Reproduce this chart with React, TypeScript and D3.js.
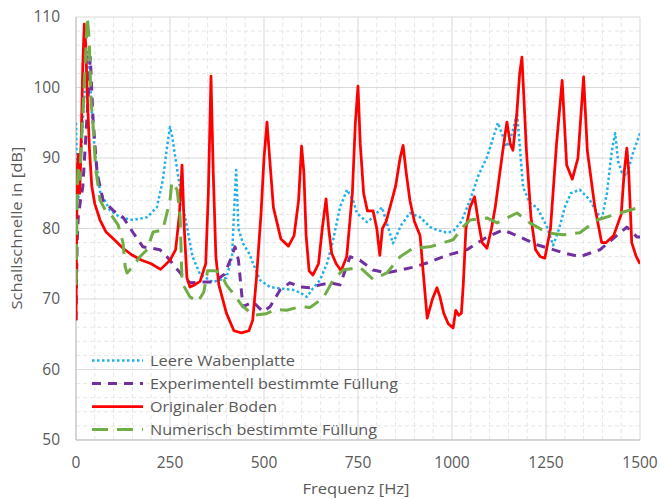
import * as d3 from "d3";

// frequency [Hz], level [dB]
const leereWabenplatte: [number, number][] = [
  [0, 95], [3, 86], [6, 84], [10, 88], [15, 92], [20, 97], [25, 101], [32, 105], [38, 100],
  [44, 95], [50, 91], [64, 85.2], [90, 82.6], [117, 81.6], [152, 81.2], [189, 81.6], [215, 83],
  [231, 86.9], [242, 91.5], [250, 94.4], [256, 93], [268, 88.7], [285, 83], [298, 79.4],
  [310, 76], [330, 73.5], [364, 72.4], [400, 73], [415, 76], [420, 82], [426, 88.3], [432, 80],
  [444, 77.9], [460, 76.5], [489, 72.7], [516, 71.7], [543, 71.5], [577, 71.3], [596, 70.9],
  [614, 70.3], [630, 71.5], [649, 72.7], [668, 75.1], [684, 78.4], [702, 83], [721, 85.5],
  [737, 84], [747, 82.2], [774, 80.9], [790, 81.6], [814, 83], [843, 77.9], [865, 80.5],
  [888, 82.2], [915, 81.6], [942, 80.2], [960, 79.8], [987, 79.4], [1003, 79.6], [1025, 81],
  [1048, 84], [1070, 87.5], [1093, 90.1], [1122, 95], [1146, 91.6], [1160, 93.5], [1173, 96.4],
  [1189, 85.9], [1207, 83.6], [1226, 83], [1253, 80.2], [1269, 77.6], [1285, 80], [1300, 83],
  [1316, 85], [1340, 85.5], [1367, 84], [1386, 82.2], [1399, 81.5], [1412, 85], [1425, 91],
  [1434, 93.5], [1442, 89.5], [1452, 87.9], [1465, 87.5], [1481, 90.7], [1500, 93.5],
];

const experimentell: [number, number][] = [
  [0, 67], [3, 78], [6, 81.6], [12, 84], [18, 85.9], [25, 92], [32, 98.2], [38, 104.3],
  [45, 95.8], [56, 87.9], [72, 84], [98, 82.6], [125, 81.6], [152, 79.4], [178, 77.4],
  [223, 77], [242, 76], [277, 73.7], [303, 72.3], [338, 72.4], [364, 72.4], [395, 73.5],
  [410, 75.5], [423, 77.4], [432, 75.5], [444, 68.9], [471, 69.6], [497, 68.2], [516, 68.9],
  [543, 71.3], [569, 72.3], [596, 71.7], [622, 71.6], [649, 72], [676, 72.3], [702, 72],
  [729, 76], [755, 75.5], [790, 74.1], [827, 73.7], [862, 74.1], [896, 74.5], [933, 75.1],
  [987, 76.2], [1040, 77], [1093, 78.8], [1136, 79.8], [1181, 78.8], [1226, 77.7], [1269, 77],
  [1300, 76.5], [1340, 76], [1394, 77], [1447, 79.4], [1465, 80.2], [1492, 78.8], [1500, 78.8],
];

const originalerBoden: [number, number][] = [
  [0, 67], [3, 88], [6, 90.5], [10, 85], [14, 93], [18, 103], [22, 109], [26, 106], [30, 99],
  [36, 91], [42, 86], [50, 83.5], [64, 81.2], [80, 79.5], [100, 78.5], [125, 77.2], [150, 76.2],
  [175, 75.5], [200, 75], [225, 74.2], [250, 75.5], [265, 77], [275, 82], [282, 89], [288, 80],
  [295, 73], [303, 71.7], [315, 72], [330, 72.5], [345, 75], [352, 85], [359, 101.6], [365, 88],
  [372, 76], [380, 72], [400, 68], [420, 65.5], [440, 65.2], [460, 65.5], [470, 67], [480, 73],
  [492, 82], [500, 90], [508, 95.1], [515, 90], [525, 83], [545, 78.5], [565, 77.5], [580, 79],
  [592, 84], [600, 91.7], [606, 88], [612, 79], [620, 74], [630, 73.4], [645, 75], [655, 80],
  [665, 84.2], [672, 80], [680, 76.5], [692, 75], [705, 74], [720, 76], [735, 85], [743, 95],
  [750, 100.2], [756, 92], [765, 85], [775, 82.5], [790, 82.5], [800, 80], [808, 76.2],
  [815, 80], [825, 81], [835, 83], [850, 86], [862, 90], [870, 91.8], [878, 88], [888, 84],
  [900, 81], [915, 79], [934, 67.3], [948, 70], [960, 71.6], [968, 70.3], [978, 68],
  [990, 66.5], [1003, 65.9], [1010, 68.4], [1018, 67.7], [1025, 68], [1030, 72], [1037, 80],
  [1048, 83], [1060, 84.5], [1070, 81], [1080, 78], [1093, 77.2], [1105, 80], [1115, 83],
  [1125, 87], [1135, 91], [1146, 95.1], [1155, 92], [1162, 91.1], [1172, 96], [1180, 102],
  [1186, 104.3], [1198, 91], [1210, 81.6], [1222, 77], [1235, 76], [1247, 75.8], [1262, 80],
  [1278, 92], [1293, 101], [1305, 89], [1320, 87], [1335, 90], [1350, 101.5], [1360, 91],
  [1380, 83], [1398, 78], [1410, 78], [1430, 79], [1450, 82], [1458, 88], [1465, 91.4],
  [1470, 88], [1478, 78], [1490, 76], [1500, 75],
];

const numerisch: [number, number][] = [
  [0, 72], [3, 85], [6, 89], [10, 87], [15, 93], [20, 98], [25, 104], [30, 110], [35, 107],
  [40, 98], [45, 95], [52, 88.7], [64, 84], [78, 82.6], [90, 82.2], [112, 80.5], [125, 78],
  [131, 74.5], [136, 73.7], [149, 74.5], [170, 76], [189, 77], [205, 79.5], [231, 79.8],
  [250, 84], [255, 86.6], [269, 85.5], [277, 81.6], [282, 72.3], [303, 70.3], [324, 69.6],
  [340, 71], [350, 74], [370, 74], [385, 73.7], [400, 72], [418, 70.8], [441, 69.1],
  [471, 67.7], [505, 67.9], [530, 68.5], [560, 68.4], [596, 68.9], [622, 68.8], [657, 70.1],
  [684, 72.7], [710, 74.1], [755, 74.5], [790, 72.8], [827, 73.7], [862, 76], [896, 77.2],
  [941, 77.4], [1003, 78.4], [1029, 80.2], [1048, 81.2], [1093, 81.5], [1120, 80.8],
  [1173, 82.2], [1207, 80.8], [1253, 79.4], [1295, 79.1], [1340, 79.4], [1386, 81.2],
  [1447, 82.2], [1492, 82.9], [1500, 83],
];

const seriesNames = [
  "Leere Wabenplatte",
  "Experimentell bestimmte Füllung",
  "Originaler Boden",
  "Numerisch bestimmte Füllung",
];
const legendWidths = [145, 248, 127, 227];
const xTicks = [0, 250, 500, 750, 1000, 1250, 1500];
const yTicks = [50, 60, 70, 80, 90, 100, 110];

const W = 661;
const H = 500;
const margin = { top: 17, right: 21, bottom: 60, left: 76 };
const font = "'Open Sans', 'Noto Sans', sans-serif";
const grey = "#595959";

const styles = [
  { color: "#1FB0EC", width: 2.5, dash: "2.5 2.5" },
  { color: "#7030A0", width: 3, dash: "9 7" },
  { color: "#FF0000", width: 2.75, dash: "" },
  { color: "#70AD47", width: 3, dash: "16 9" },
];

export default function App() {
  const x = d3.scaleLinear().domain([0, 1500]).range([margin.left, W - margin.right]);
  const y = d3.scaleLinear().domain([50, 110]).range([H - margin.bottom, margin.top]);
  const line = d3
    .line<[number, number]>()
    .x((d) => x(d[0]))
    .y((d) => y(d[1]));
  const data = [leereWabenplatte, experimentell, originalerBoden, numerisch];
  const xMinor = d3.range(0, 1501, 50).filter((v) => v % 250 !== 0);
  const yMinor = d3.range(50, 111, 2).filter((v) => v % 10 !== 0);

  return (
    <svg
      width={W}
      height={H}
      style={{ position: "absolute", left: 0, top: 0, background: "#fff" }}
      fontFamily={font}
    >
      <defs>
        <clipPath id="plot">
          <rect x={margin.left} y={margin.top} width={W - margin.left - margin.right} height={H - margin.top - margin.bottom} />
        </clipPath>
      </defs>
      {xMinor.map((v) => (
        <line key={"xm" + v} x1={x(v)} x2={x(v)} y1={y(50)} y2={y(110)} stroke="#E6E6E6" strokeDasharray="4 3" />
      ))}
      {yMinor.map((v) => (
        <line key={"ym" + v} x1={x(0)} x2={x(1500)} y1={y(v)} y2={y(v)} stroke="#E6E6E6" strokeDasharray="4 3" />
      ))}
      {xTicks.map((v) => (
        <line key={"xg" + v} x1={x(v)} x2={x(v)} y1={y(50)} y2={y(110)} stroke="#D9D9D9" />
      ))}
      {yTicks.map((v) => (
        <line key={"yg" + v} x1={x(0)} x2={x(1500)} y1={y(v)} y2={y(v)} stroke="#D9D9D9" />
      ))}
      <line x1={x(0)} x2={x(1500)} y1={y(50)} y2={y(50)} stroke="#BFBFBF" />
      <line x1={x(0)} x2={x(0)} y1={y(50)} y2={y(110)} stroke="#BFBFBF" />

      <g clipPath="url(#plot)">
        {data.map((d, i) => (
          <path
            key={i}
            d={line(d) ?? ""}
            fill="none"
            stroke={styles[i].color}
            strokeWidth={styles[i].width}
            strokeDasharray={styles[i].dash}
            strokeLinejoin="round"
          />
        ))}
      </g>

      {yTicks.map((v) => (
        <text key={"yt" + v} x={60} y={y(v)} dy="0.35em" textAnchor="end" fontSize={15.5} fill={grey}>
          {v}
        </text>
      ))}
      {xTicks.map((v) => (
        <text key={"xt" + v} x={x(v)} y={463} dy="0.35em" textAnchor="middle" fontSize={15.5} fill={grey}>
          {v}
        </text>
      ))}
      <text
        x={356}
        y={489}
        dy="0.35em"
        textAnchor="middle"
        fontSize={15}
        fill={grey}
        textLength={107}
        lengthAdjust="spacingAndGlyphs"
      >
        Frequenz [Hz]
      </text>
      <text
        transform={`translate(17,228) rotate(-90)`}
        dy="0.35em"
        textAnchor="middle"
        fontSize={15}
        fill={grey}
        textLength={163}
        lengthAdjust="spacingAndGlyphs"
      >
        Schallschnelle in [dB]
      </text>

      {seriesNames.map((name, i) => {
        const ly = 360.5 + i * 23;
        return (
          <g key={name}>
            <line
              x1={92}
              x2={143}
              y1={ly}
              y2={ly}
              stroke={styles[i].color}
              strokeWidth={styles[i].width}
              strokeDasharray={styles[i].dash}
            />
            <text
              x={150}
              y={ly}
              dy="0.35em"
              fontSize={15}
              fill={grey}
              textLength={legendWidths[i]}
              lengthAdjust="spacingAndGlyphs"
            >
              {name}
            </text>
          </g>
        );
      })}
    </svg>
  );
}
